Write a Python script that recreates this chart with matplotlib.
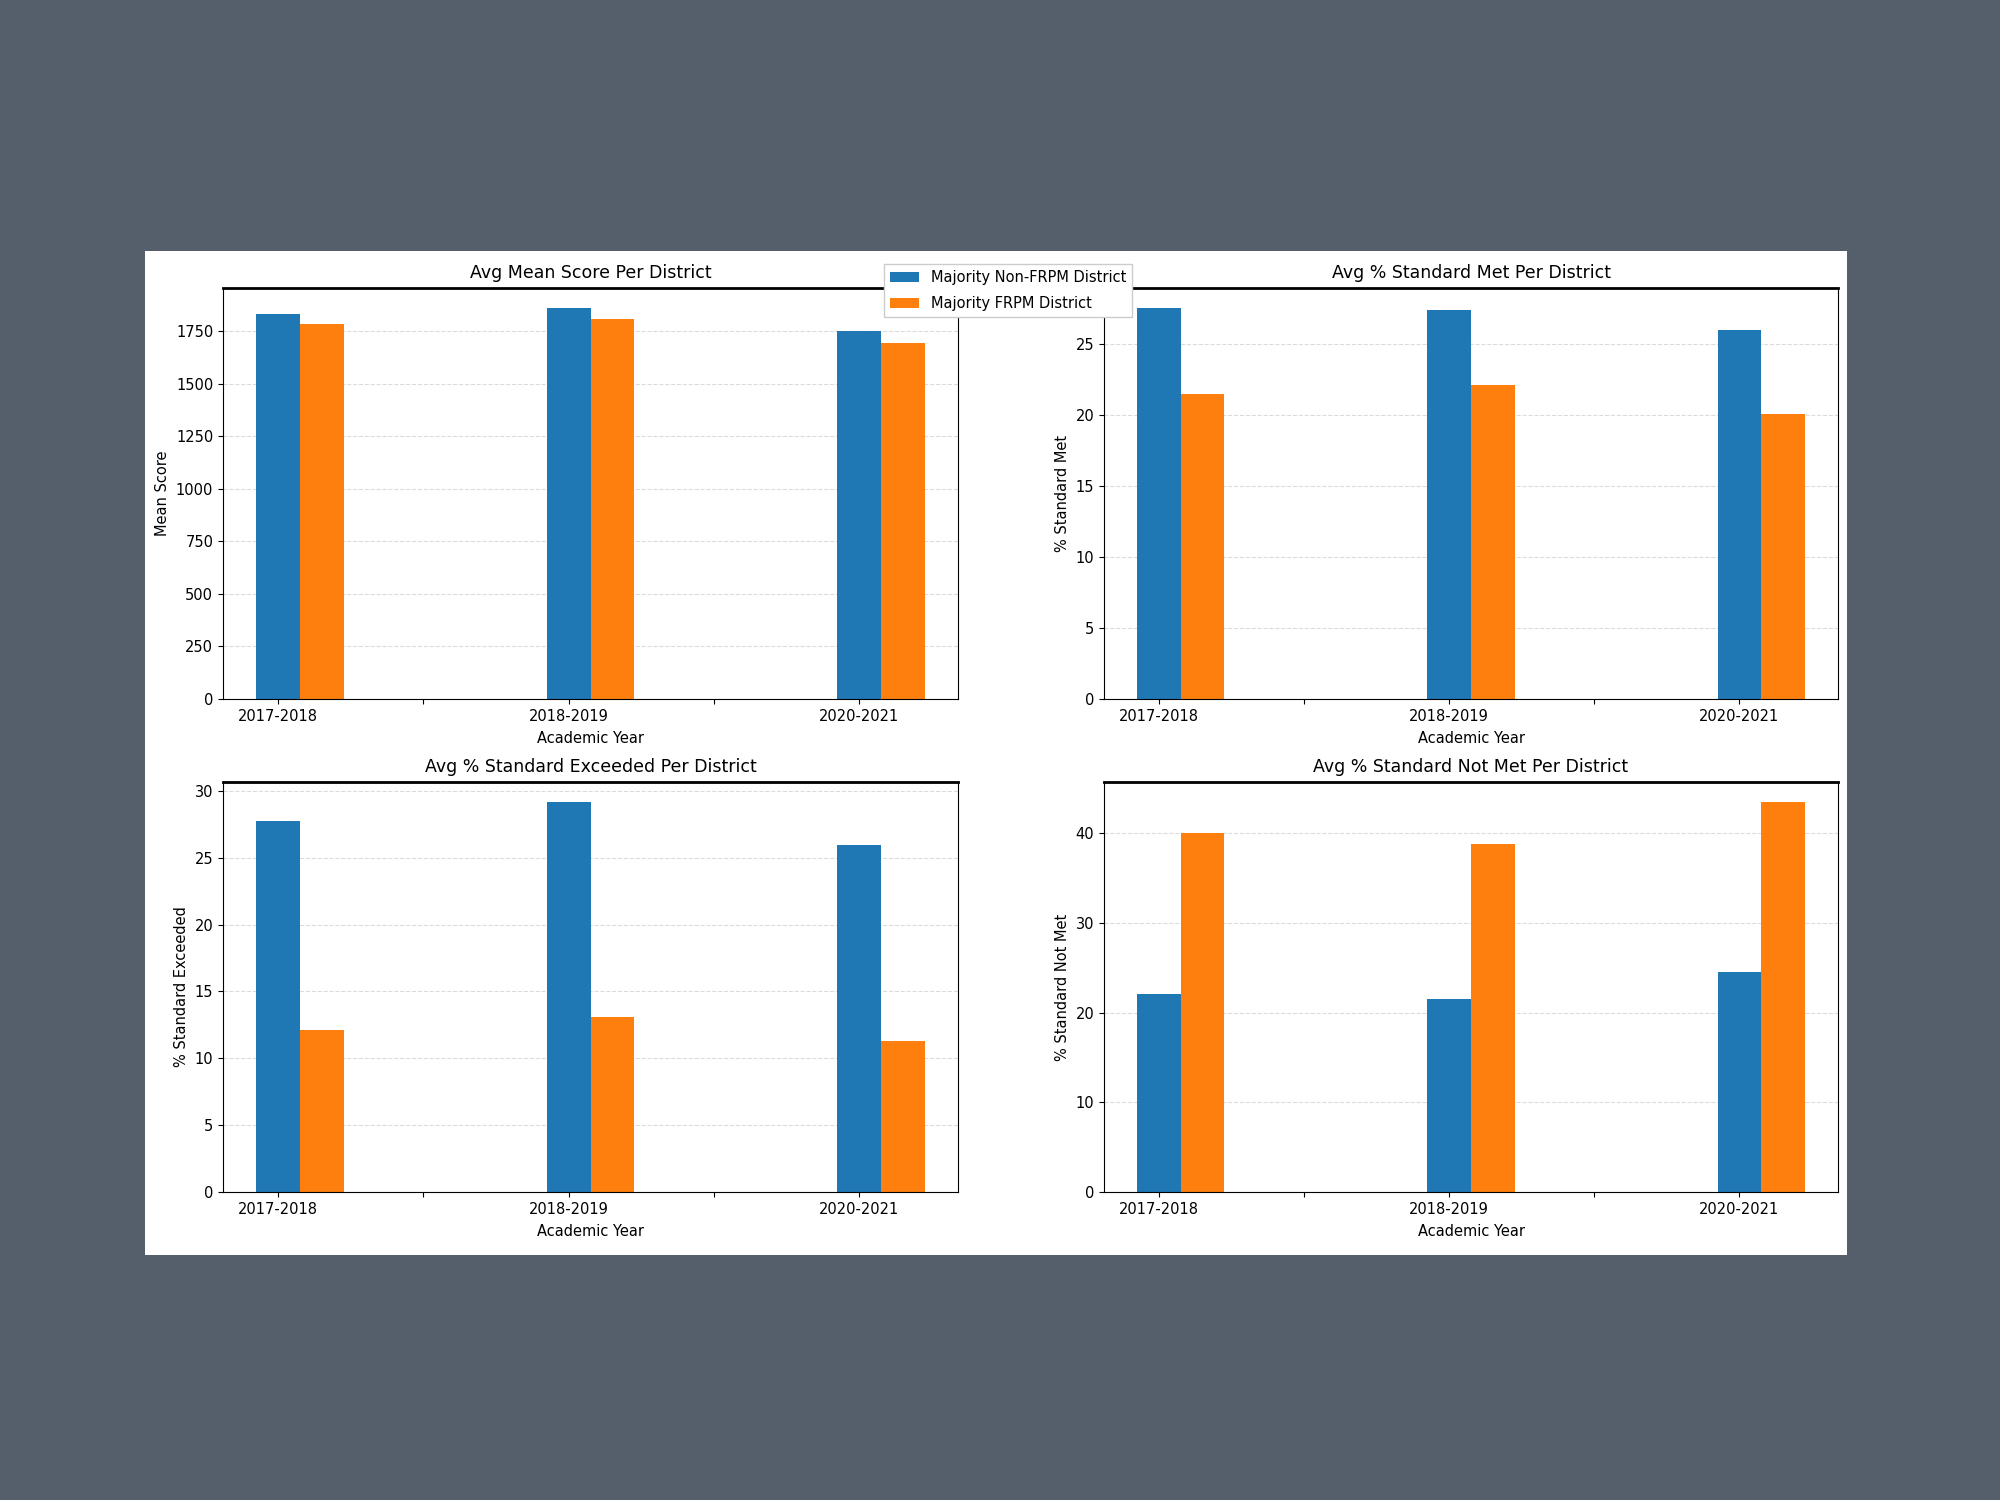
import numpy as np
import matplotlib
matplotlib.use("Agg")
import matplotlib.pyplot as plt
from matplotlib.patches import Rectangle

plt.rcParams['font.family'] = ['DejaVu Sans']

# ============================================
# data
# ============================================
years = ["2017-2018", "2018-2019", "2020-2021"]
series_names = ["Majority Non-FRPM District", "Majority FRPM District"]

mean_non_frpm = [1832, 1861, 1751]
mean_frpm = [1785, 1809, 1694]

met_non_frpm = [27.55, 27.41, 26.0]
met_frpm = [21.49, 22.13, 20.08]

exceeded_non_frpm = [27.71, 29.2, 25.92]
exceeded_frpm = [12.10, 13.06, 11.26]

notmet_non_frpm = [22.03, 21.47, 24.58]
notmet_frpm = [40.04, 38.8, 43.55]

panels = [
    ("Avg Mean Score Per District", "Mean Score", mean_non_frpm, mean_frpm),
    ("Avg % Standard Met Per District", "% Standard Met", met_non_frpm, met_frpm),
    ("Avg % Standard Exceeded Per District", "% Standard Exceeded", exceeded_non_frpm, exceeded_frpm),
    ("Avg % Standard Not Met Per District", "% Standard Not Met", notmet_non_frpm, notmet_frpm),
]

# ============================================
# figure: gray page with a white "screenshot" area
# ============================================
W, H = 2000, 1500
fig = plt.figure(figsize=(20, 15), dpi=100)
fig.patch.set_facecolor("#555f6b")

# white area (pixel coords converted to figure fractions)
wx0, wy0, wx1, wy1 = 145, 251, 1847, 1255
fig.add_artist(Rectangle((wx0 / W, 1 - wy1 / H), (wx1 - wx0) / W, (wy1 - wy0) / H,
                         transform=fig.transFigure, facecolor="white",
                         edgecolor="none", zorder=-1))

# axes boxes in pixels: left, top, right, bottom
boxes = [
    (223, 288, 958, 699),
    (1104, 288, 1838, 699),
    (223, 782, 958, 1192),
    (1104, 782, 1838, 1192),
]

x = np.arange(len(years))
width = 0.15
tick_pos = np.arange(0, len(years) - 0.5, 0.5)
tick_labels = []
for i, p in enumerate(tick_pos):
    tick_labels.append(years[int(p)] if p == int(p) else "")

bars = None
for (title, ylabel, blue, orange), (l, t, r, b) in zip(panels, boxes):
    ax = fig.add_axes([l / W, 1 - b / H, (r - l) / W, (b - t) / H])
    b1 = ax.bar(x, blue, width, color="#1f77b4", label=series_names[0])
    b2 = ax.bar(x + width, orange, width, color="#ff7f0e", label=series_names[1])
    bars = (b1, b2)
    ax.set_xticks(tick_pos)
    ax.set_xticklabels(tick_labels, fontsize=10.5)
    ax.tick_params(axis="y", labelsize=10.5)
    ax.set_title(title, fontsize=12.5, pad=7)
    ax.set_ylabel(ylabel, fontsize=10.5)
    ax.set_xlabel("Academic Year", fontsize=10.5, labelpad=5)
    ax.grid(True, axis="y", linestyle="--", color="#cccccc", alpha=0.7)
    ax.set_axisbelow(True)
    ax.spines["top"].set_linewidth(2.0)

fig.legend(bars, series_names, loc="upper left", bbox_to_anchor=(884 / W, 1 - 264 / H),
           borderaxespad=0, fontsize=10.5, labelspacing=0.75, framealpha=1,
           edgecolor="#cccccc", fancybox=False)

fig.savefig("out.png", dpi=100, facecolor=fig.get_facecolor())
